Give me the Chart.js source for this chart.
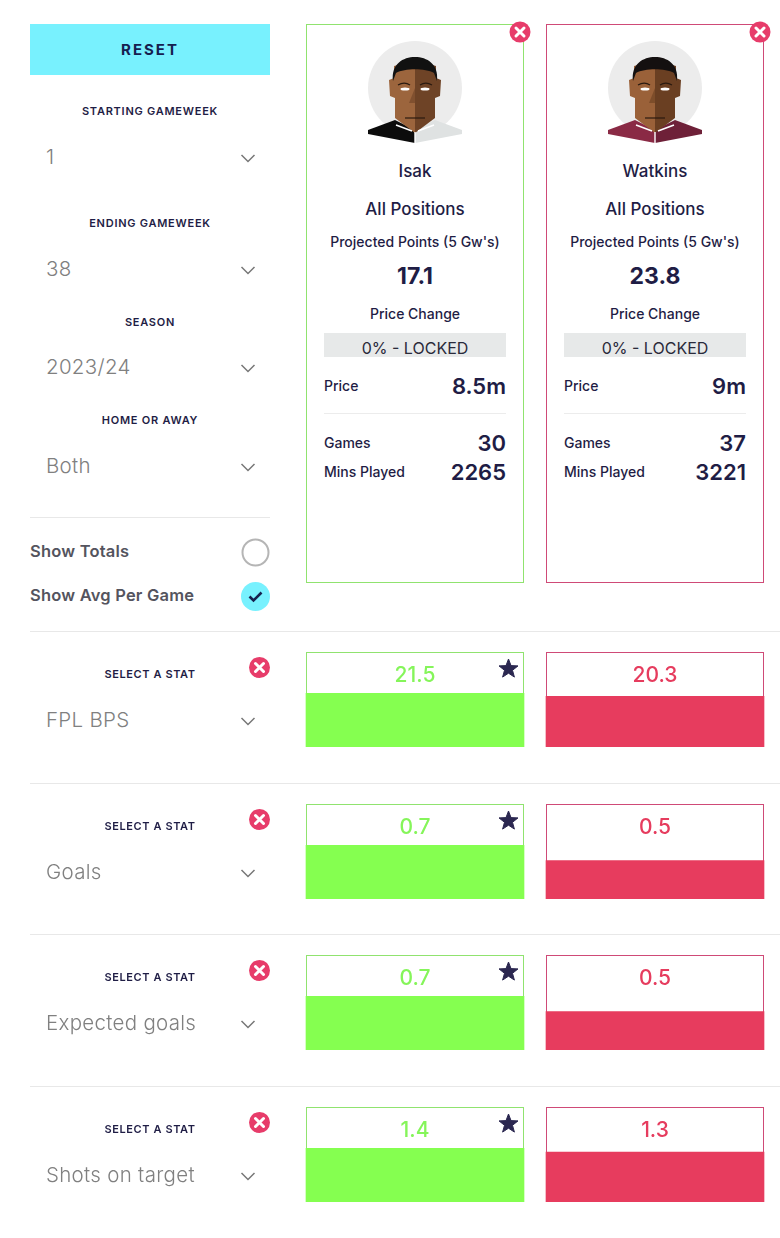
<!DOCTYPE html>
<html>
<head>
<meta charset="utf-8">
<script src="https://cdn.jsdelivr.net/npm/chart.js@4"></script>
<style>
    html, body { margin: 0; padding: 0; background: #fff; }
    #page { position: relative; width: 780px; height: 1238px; overflow: hidden; font-family: Inter, Lato, sans-serif; color: #1f1d45; }
    .t { position: absolute; white-space: nowrap; line-height: 1; }
    .box { position: absolute; box-sizing: border-box; }
    canvas { position: absolute; }
    svg { position: absolute; overflow: visible; }
    .caps { font-size: 11px; font-weight: 600; letter-spacing: 0.75px; transform: translate(-50%, -50%); }
    .pick { font-size: 20.5px; font-weight: 300; color: #808080; transform: translateY(-50%); letter-spacing: 0.3px; }
    .mid { transform: translate(-50%, -50%); }
    .left { transform: translateY(-50%); }
    .right { transform: translate(-100%, -50%); }
</style>
</head>
<body>
<div id="page"></div>
<script>
// values
const statNames = ['FPL BPS', 'Goals', 'Expected goals', 'Shots on target'];
const isakValues = [21.5, 0.7, 0.7, 1.4];
const watkinsValues = [20.3, 0.5, 0.5, 1.3];
const playerNames = ['Isak', 'Watkins'];
const projected = ['17.1', '23.8'];
const prices = ['8.5m', '9m'];
const games = ['30', '37'];
const minsPlayed = ['2265', '3221'];

const GREEN = '#85ff50';
const RED = '#e73c5e';
const page = document.getElementById('page');

function text(str, x, y, cls, css) {
    const el = document.createElement('div');
    el.className = 't ' + cls;
    el.textContent = str;
    el.style.left = x + 'px';
    el.style.top = y + 'px';
    if (css) el.style.cssText += css;
    page.appendChild(el);
    return el;
}

function box(x, y, w, h, css) {
    const el = document.createElement('div');
    el.className = 'box';
    el.style.cssText = `left:${x}px;top:${y}px;width:${w}px;height:${h}px;` + css;
    page.appendChild(el);
    return el;
}

function svg(markup) {
    page.insertAdjacentHTML('beforeend', `<svg width="780" height="1238" style="left:0;top:0">${markup}</svg>`);
}

function chevron(y) {
    svg(`<path d="M241.5 ${y - 3}L248 ${y + 3.5}L254.5 ${y - 3}" fill="none" stroke="#777" stroke-width="1.5"/>`);
}

function closeBtn(x, y) {
    svg(`<circle cx="${x}" cy="${y}" r="10.5" fill="#e73c6a"/>
         <path d="M${x - 4} ${y - 4}L${x + 4} ${y + 4}M${x + 4} ${y - 4}L${x - 4} ${y + 4}" stroke="#fff" stroke-width="3" stroke-linecap="round"/>`);
}

function star(x, y) {
    const pts = [];
    for (let i = 0; i < 10; i++) {
        const r = i % 2 ? 4.2 : 10;
        const a = -Math.PI / 2 + i * Math.PI / 5;
        pts.push((x + r * Math.cos(a)).toFixed(1) + ',' + (y + r * Math.sin(a)).toFixed(1));
    }
    svg(`<polygon points="${pts.join(' ')}" fill="#2b2750" stroke="#2b2750" stroke-linejoin="round"/>`);
}

function face(cx, hair, light, dark, shirtL, shirtR) {
    const g = `<g transform="translate(${cx},0)">
        <circle cx="0" cy="88" r="47" fill="#ececec"/>
        <path d="M-47 130L-20 120L0 130L0 143L-47 134Z" fill="${shirtL}"/>
        <path d="M47 130L20 120L0 130L0 143L47 134Z" fill="${shirtR}"/>
        <path d="M-26 80L-21 78L-21 66L0 60L0 133L-20 118L-20 98L-25 96Z" fill="${light}"/>
        <path d="M26 80L21 78L21 66L0 60L0 133L20 118L20 98L25 96Z" fill="${dark}"/>
        <path d="M-22 81C-24 64 -12 57 0 57C12 57 24 64 22 81L19 73C10 68 -10 68 -19 73Z" fill="${hair}"/>
        <path d="M-17 85C-12 82 -8 83 -5 85M5 85C8 83 12 82 17 85" fill="none" stroke="#2a1a10" stroke-width="1.3"/>
        <ellipse cx="-10" cy="89" rx="4.5" ry="1.5" fill="#fff"/>
        <ellipse cx="10" cy="89" rx="4.5" ry="1.5" fill="#fff"/>
        <path d="M0 88L0 103L-6 103Z" fill="${dark}" opacity="0.6"/>
        <path d="M-10 118L10 118" stroke="#2a1a10" stroke-width="1.2"/>
        <path d="M-19 125L-3 131M19 125L3 131" stroke="#fff" stroke-width="1.6"/>
        <path d="M0 132L0 143" stroke="#fff" stroke-width="1.4"/>
    </g>`;
    svg(g);
}

// left column
box(30, 24, 240, 51, 'background:#78f1fe');
text('RESET', 150, 49, 'mid', 'font-size:15px;font-weight:700;letter-spacing:2px;color:#16204f');

const filterNames = ['STARTING GAMEWEEK', 'ENDING GAMEWEEK', 'SEASON', 'HOME OR AWAY'];
const filterValues = ['1', '38', '2023/24', 'Both'];
const filterLabelY = [111, 223, 322, 420];
const filterValueY = [157, 269, 367, 466];
filterNames.forEach((name, i) => {
    text(name, 150, filterLabelY[i], 'caps');
    text(filterValues[i], 46, filterValueY[i], 'pick');
    chevron(filterValueY[i] + 1);
});

box(30, 516.5, 240, 1, 'background:#e8e8e8');
text('Show Totals', 30, 551, 'left', 'font-size:16.5px;font-weight:600;color:#54545e;letter-spacing:0.2px');
text('Show Avg Per Game', 30, 595, 'left', 'font-size:16.5px;font-weight:600;color:#54545e;letter-spacing:0.2px');
svg(`<circle cx="255.5" cy="552.5" r="13" fill="none" stroke="#b5b5b5" stroke-width="2"/>
     <circle cx="255.5" cy="596.5" r="14.5" fill="#78f1fe"/>
     <path d="M249.5 596.5L253.5 600.5L261.5 592.5" fill="none" stroke="#16204f" stroke-width="2.6"/>`);

// player cards
const cardX = [306, 546];
const cardBorders = ['#90e36f', '#cf4a77'];
const faceColors = [
    ['#111', '#9c653d', '#6e4326', '#0c0c0c', '#dfe2e2'],
    ['#141010', '#9a6139', '#6a3f22', '#8a2a45', '#6e2038']
];
const nameCss = 'font-size:17px;font-weight:500';
const smallCss = 'font-size:14px;font-weight:500';
const bigCss = 'font-size:22px;font-weight:600';
playerNames.forEach((name, i) => {
    const x = cardX[i];
    const cx = x + 109;
    box(x, 24, 218, 559, `border:1.5px solid ${cardBorders[i]}`);
    face(cx, ...faceColors[i]);
    closeBtn(x + 214, 32);
    text(name, cx, 171, 'mid', nameCss);
    text('All Positions', cx, 209, 'mid', nameCss);
    text("Projected Points (5 Gw's)", cx, 242, 'mid', smallCss);
    text(projected[i], cx, 276, 'mid', 'font-size:23px;font-weight:700');
    text('Price Change', cx, 314, 'mid', smallCss);
    box(x + 18, 333, 182, 24, 'background:#e7e9e9');
    text('0% - LOCKED', cx, 348, 'mid', 'font-size:16px;font-weight:400;color:#2a2a3a');
    text('Price', x + 18, 386, 'left', smallCss);
    text(prices[i], x + 200, 386, 'right', bigCss);
    box(x + 18, 413, 182, 1, 'background:#ececec');
    text('Games', x + 18, 443, 'left', smallCss);
    text(games[i], x + 200, 443, 'right', bigCss);
    text('Mins Played', x + 18, 472, 'left', smallCss);
    text(minsPlayed[i], x + 200, 472, 'right', bigCss);
});

// stat rows, one bar chart per row
const rowTop = [652, 804, 955, 1107];
const rowDivider = [631, 783, 934, 1086];
const ROW_H = 95;

statNames.forEach((stat, i) => {
    const top = rowTop[i];
    box(30, rowDivider[i], 750, 1, 'background:#e8e8e8');
    text('SELECT A STAT', 150, top + 22, 'caps', 'letter-spacing:0.6px');
    closeBtn(259.5, top + 15.5);
    text(stat, 46, top + 68, 'pick');
    chevron(top + 69);

    box(306, top, 218, ROW_H, `border:1.5px solid ${cardBorders[0]}`);
    box(546, top, 218, ROW_H, `border:1.5px solid ${cardBorders[1]}`);

    const canvas = document.createElement('canvas');
    canvas.style.left = '295px';
    canvas.style.top = top + 'px';
    page.appendChild(canvas);
    canvas.width = 480;
    canvas.height = ROW_H;

    const vals = [isakValues[i], watkinsValues[i]];
    new Chart(canvas, {
        type: 'bar',
        data: {
            labels: playerNames,
            datasets: [{
                label: stat,
                data: vals,
                backgroundColor: [GREEN, RED],
                borderWidth: 0,
                barThickness: 218
            }]
        },
        options: {
            responsive: false,
            animation: false,
            layout: { padding: 0 },
            plugins: { legend: { display: false }, tooltip: { enabled: false } },
            scales: {
                x: { display: false },
                y: { display: false, min: 0, max: Math.max(...vals) * 1.77 }
            }
        }
    });

    text(String(vals[0]), 415, top + 22, 'mid', 'font-size:21px;font-weight:500;color:#85f55a');
    text(String(vals[1]), 655, top + 22, 'mid', 'font-size:21px;font-weight:500;color:#e63c5e');
    star(508.5, top + 17);
});
</script>
</body>
</html>
